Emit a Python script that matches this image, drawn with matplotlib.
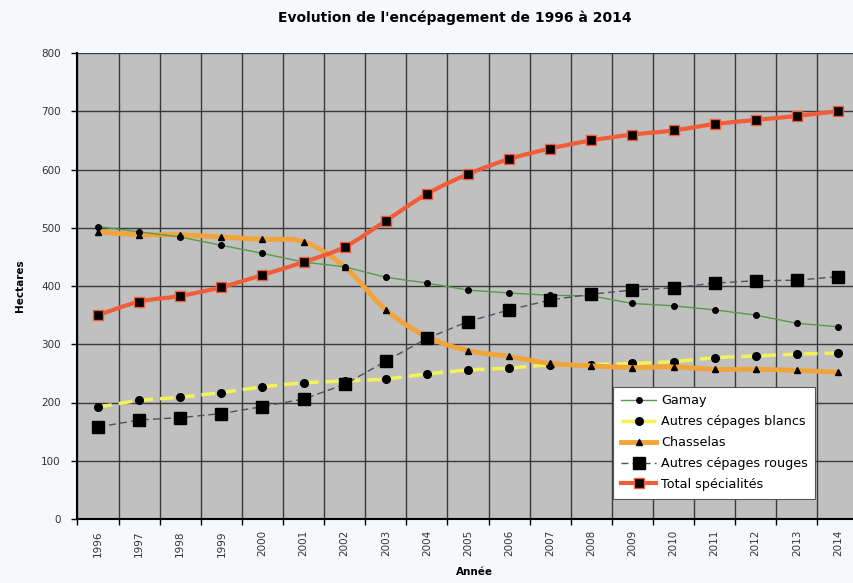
import numpy as np
import matplotlib.pyplot as plt
from matplotlib.path import Path
from matplotlib.patches import PathPatch
from matplotlib.lines import Line2D

years = [str(y) for y in range(1996, 2015)]

gamay = [502, 493, 484, 470, 456, 441, 433, 415, 405, 393, 388, 384, 383, 370, 366, 359, 350, 336, 330]
autres_blancs = [192, 204, 209, 217, 227, 234, 237, 240, 249, 256, 259, 265, 265, 267, 270, 277, 280, 283, 285]
chasselas = [493, 488, 488, 484, 480, 476, 433, 359, 313, 289, 279, 267, 263, 260, 261, 257, 257, 255, 252]
autres_rouges = [158, 170, 174, 181, 193, 206, 231, 271, 310, 339, 359, 376, 386, 393, 397, 405, 409, 410, 416]
total_spec = [350, 373, 383, 398, 419, 441, 467, 512, 558, 592, 618, 636, 650, 660, 667, 678, 685, 692, 700]


def smooth_path(xs, ys):
    # Excel-like smoothed line: cubic bezier through every point
    xs = np.asarray(xs, float)
    ys = np.asarray(ys, float)
    verts = [(xs[0], ys[0])]
    codes = [Path.MOVETO]
    n = len(xs)
    for i in range(n - 1):
        p0 = i - 1 if i > 0 else i
        p3 = i + 2 if i + 2 < n else i + 1
        c1 = (xs[i] + (xs[i + 1] - xs[p0]) / 6, ys[i] + (ys[i + 1] - ys[p0]) / 6)
        c2 = (xs[i + 1] - (xs[p3] - xs[i]) / 6, ys[i + 1] - (ys[p3] - ys[i]) / 6)
        verts += [c1, c2, (xs[i + 1], ys[i + 1])]
        codes += [Path.CURVE4] * 3
    return Path(verts, codes)


fig = plt.figure(figsize=(8.54, 5.83), dpi=100)
fig.patch.set_facecolor('#f6f9fb')
ax = fig.add_axes([77.5 / 854, 64 / 583, 781 / 854, 466 / 583])
ax.set_facecolor('#c0c0c0')

x = np.arange(len(years))

green, yellow, orange, grey, red = '#5a9a4a', '#f2f25a', '#f0a43a', '#505060', '#f25c38'

ax.plot(x, gamay, color=green, lw=1.0, marker='o', ms=4, mfc='black', mec='black', zorder=4)
ax.plot(x, autres_blancs, color=yellow, lw=2.5, ls=(0, (4, 2)), marker='o', ms=5.5,
        mfc='black', mec='black', zorder=3)
ax.add_patch(PathPatch(smooth_path(x, chasselas), fc='none', ec=orange, lw=3.5, zorder=3))
ax.plot(x, chasselas, ls='none', marker='^', ms=5, mfc='black', mec='black', zorder=3)
ax.plot(x, autres_rouges, color=grey, lw=1.0, ls=(0, (5, 3)), marker='s', ms=8,
        mfc='black', mec='black', zorder=5)
ax.add_patch(PathPatch(smooth_path(x, total_spec), fc='none', ec=red, lw=3.0, zorder=4))
ax.plot(x, total_spec, ls='none', marker='s', ms=7, mfc='black', mec=red, zorder=4)

ax.set_xlim(-0.5, len(years) - 0.5)
ax.set_ylim(0, 800)
ax.set_yticks(range(0, 801, 100))
ax.set_xticks(x)
ax.set_xticklabels(years, rotation=90, fontsize=7.5, color='#333333')
ax.set_xticks(np.arange(-0.5, len(years), 1), minor=True)
ax.tick_params(axis='x', which='major', length=0, pad=8)
ax.tick_params(axis='x', which='minor', length=4, width=1, color='black')
ax.tick_params(axis='y', length=4, width=1, labelsize=7.5, labelcolor='#333333', pad=8)

ax.grid(True, which='minor', axis='x', color='#3a3a3a', lw=1.0)
ax.grid(True, which='major', axis='y', color='#3a3a3a', lw=1.0)
ax.set_axisbelow(True)

for side in ['top', 'right']:
    ax.spines[side].set_visible(False)
for side in ['left', 'bottom']:
    ax.spines[side].set_linewidth(1.5)

ax.set_xlabel('Année', fontsize=7.5, fontweight='bold')
ax.xaxis.set_label_coords(0.508, -0.104)
ax.set_ylabel('Hectares', fontsize=7.5, fontweight='bold', labelpad=12)
fig.text(455 / 854, 0.969, "Evolution de l'encépagement de 1996 à 2014", ha='center', va='center',
         fontsize=10, fontweight='bold')

handles = [
    Line2D([], [], color=green, lw=1.0, marker='o', ms=4, mfc='black', mec='black'),
    Line2D([], [], color=yellow, lw=2.5, ls=(0, (4, 2)), marker='o', ms=5.5, mfc='black', mec='black'),
    Line2D([], [], color=orange, lw=3.5, marker='^', ms=5, mfc='black', mec='black'),
    Line2D([], [], color=grey, lw=1.0, ls=(0, (5, 3)), marker='s', ms=8, mfc='black', mec='black'),
    Line2D([], [], color=red, lw=3.0, marker='s', ms=7, mfc='black', mec=red),
]
labels = ['Gamay', 'Autres cépages blancs', 'Chasselas', 'Autres cépages rouges', 'Total spécialités']
leg = ax.legend(handles, labels, loc='lower right', bbox_to_anchor=(0.953, 0.03), fontsize=9.2,
                frameon=True, fancybox=False, edgecolor='#555555', framealpha=1,
                handlelength=2.8, handletextpad=0.35, borderpad=0.6, labelspacing=0.62)
leg.get_frame().set_linewidth(0.8)

fig.savefig('out.png', dpi=100, facecolor=fig.get_facecolor())
